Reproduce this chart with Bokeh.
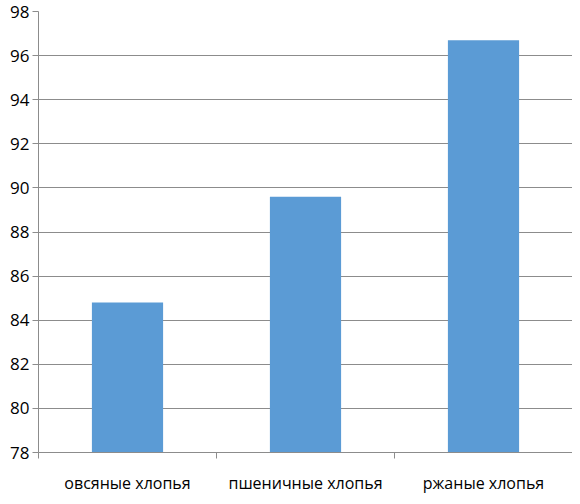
from bokeh.plotting import figure
from bokeh.models import FixedTicker, Range1d, ColumnDataSource
from bokeh.embed import file_html
from bokeh.resources import INLINE

categories = ["овсяные хлопья", "пшеничные хлопья", "ржаные хлопья"]
values = [84.8, 89.6, 96.7]
y_ticks = [78, 80, 82, 84, 86, 88, 90, 92, 94, 96, 98]

xs = [i + 0.5 for i in range(len(categories))]
src = ColumnDataSource(dict(x=xs, top=values))

p = figure(width=572, height=496, output_backend="svg", toolbar_location=None,
           x_range=Range1d(0, len(categories)), y_range=Range1d(78, 98),
           min_border_left=38, min_border_right=0, min_border_top=11, min_border_bottom=37)
p.outline_line_color = None
p.background_fill_color = "white"
p.border_fill_color = "white"

p.vbar(x="x", top="top", bottom=78, width=0.4, source=src, color="#5B9BD5", line_color=None)

p.xgrid.grid_line_color = None
p.ygrid.grid_line_color = "#8c8c8c"
p.ygrid.grid_line_width = 1
p.ygrid.ticker = FixedTicker(ticks=y_ticks)

p.yaxis.ticker = FixedTicker(ticks=y_ticks)
p.yaxis.axis_line_color = "#8c8c8c"
p.yaxis.major_tick_line_color = "#8c8c8c"
p.yaxis.major_tick_out = 6
p.yaxis.major_tick_in = 0
p.yaxis.minor_tick_line_color = None
p.yaxis.major_label_text_font = "Open Sans"
p.yaxis.major_label_text_font_size = "17px"
p.yaxis.major_label_text_color = "black"
p.yaxis.major_label_standoff = 3

p.xaxis.ticker = FixedTicker(ticks=xs, minor_ticks=list(range(len(categories) + 1)))
p.xaxis.major_label_overrides = {x: c for x, c in zip(xs, categories)}
p.xaxis.axis_line_color = "#8c8c8c"
p.xaxis.major_tick_line_color = None
p.xaxis.minor_tick_line_color = "#8c8c8c"
p.xaxis.minor_tick_out = 6
p.xaxis.minor_tick_in = 0
p.xaxis.major_label_text_font = "Open Sans"
p.xaxis.major_label_text_font_size = "16px"
p.xaxis.major_label_text_color = "black"
p.xaxis.major_label_standoff = 13

open("out.html", "w").write(file_html(p, INLINE))
